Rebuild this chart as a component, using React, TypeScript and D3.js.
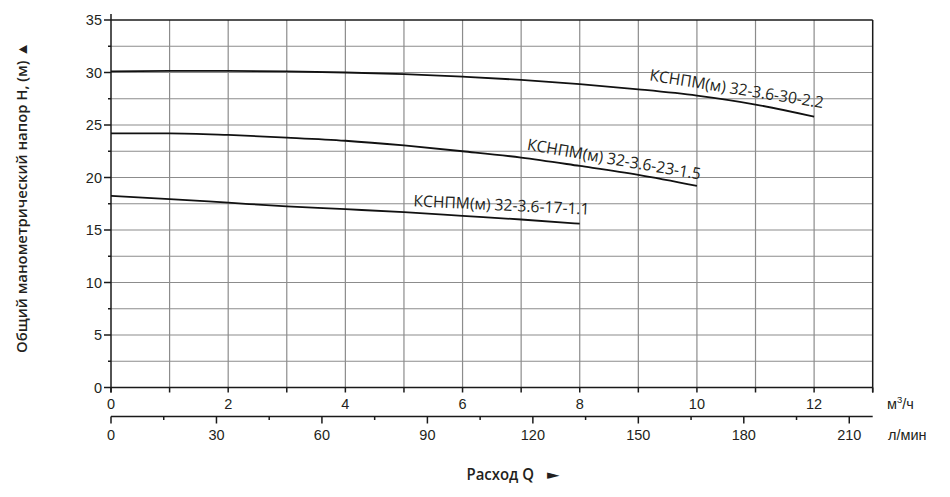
import React from "react";
import * as d3 from "d3";

// ---- data ----
const flowQ30 = [0, 1, 2, 3, 4, 5, 6, 7, 8, 9, 10, 11, 12];
const head30 = [30.1, 30.15, 30.15, 30.1, 30.0, 29.85, 29.6, 29.3, 28.9, 28.4, 27.8, 26.95, 25.8];
const flowQ23 = [0, 1, 2, 3, 4, 5, 6, 7, 8, 9, 10];
const head23 = [24.2, 24.2, 24.05, 23.8, 23.5, 23.05, 22.5, 21.9, 21.1, 20.25, 19.2];
const flowQ17 = [0, 1, 2, 3, 4, 5, 6, 7, 8];
const head17 = [18.26, 17.95, 17.6, 17.25, 16.98, 16.7, 16.35, 16.0, 15.6];

const seriesNames = [
  "КСНПМ(м) 32-3.6-30-2.2",
  "КСНПМ(м) 32-3.6-23-1.5",
  "КСНПМ(м) 32-3.6-17-1.1",
];
// label anchors in data units (Q, H) and rotation
const labelQ = [9.18, 7.09, 5.16];
const labelH = [29.25, 22.65, 17.25];
const labelAngle = [9.1, 9.8, 2.7];

const yTicks = [0, 5, 10, 15, 20, 25, 30, 35];
const xTicksM3 = [0, 2, 4, 6, 8, 10, 12];
const xTicksLmin = [0, 30, 60, 90, 120, 150, 180, 210];

const yTitle = "Общий манометрический напор H, (м) ▲";
const xTitle = "Расход Q";
const unitLmin = "л/мин";

export default function App() {
  const W = 950;
  const H = 497;
  const left = 111;
  const right = 872.7;
  const top = 20;
  const bottom = 387.5;
  const axis2Y = 416.5;

  const x = d3.scaleLinear().domain([0, 13]).range([left, right]);
  const xl = d3.scaleLinear().domain([0, 13 * 1000 / 60]).range([left, right]);
  const y = d3.scaleLinear().domain([0, 35]).range([bottom, top]);

  const line = d3
    .line<[number, number]>()
    .x((d) => x(d[0]))
    .y((d) => y(d[1]))
    .curve(d3.curveMonotoneX);

  const series = [
    d3.zip(flowQ30, head30) as [number, number][],
    d3.zip(flowQ23, head23) as [number, number][],
    d3.zip(flowQ17, head17) as [number, number][],
  ];

  const vGrid = d3.range(1, 13);
  const hGrid = d3.range(2.5, 35, 2.5);
  const yMinor = d3.range(2.5, 35, 5);
  const xAllTicks = d3.range(0, 14);
  const lMinor = d3.range(15, 211, 30);

  const gridColor = "#8c8c8c";
  const axisColor = "#1a1a1a";
  const textColor = "#231f20";
  const tickFont = "'Liberation Sans', Arial, sans-serif";
  const labelFont = "'Open Sans', 'Noto Sans', sans-serif";

  return (
    <div style={{ position: "fixed", left: 0, top: 0, width: W, height: H, background: "#fff" }}>
      <svg width={W} height={H} viewBox={`0 0 ${W} ${H}`}>
        <rect x={0} y={0} width={W} height={H} fill="#fff" />
        {/* grid */}
        <g stroke={gridColor} strokeWidth={1.2}>
          {vGrid.map((q) => (
            <line key={"v" + q} x1={x(q)} x2={x(q)} y1={top} y2={bottom} />
          ))}
          {hGrid.map((h) => (
            <line key={"h" + h} x1={left} x2={right} y1={y(h)} y2={y(h)} />
          ))}
        </g>
        {/* frame */}
        <g stroke={axisColor} strokeWidth={1.5} fill="none">
          <line x1={left} x2={left} y1={top - 6} y2={bottom + 5} />
          <line x1={left} x2={right} y1={bottom} y2={bottom} />
          <line x1={left} x2={right} y1={top} y2={top} />
          <line x1={right} x2={right} y1={top} y2={bottom + 5} />
          {yTicks.map((t) => (
            <line key={"yt" + t} x1={left - 7} x2={left} y1={y(t)} y2={y(t)} />
          ))}
          {yMinor.map((t) => (
            <line key={"ym" + t} x1={left - 3} x2={left} y1={y(t)} y2={y(t)} />
          ))}
          {xAllTicks.map((t) => (
            <line key={"xt" + t} x1={x(t)} x2={x(t)} y1={bottom} y2={bottom + 5} />
          ))}
          <line x1={left} x2={right} y1={axis2Y} y2={axis2Y} />
          {xTicksLmin.map((t) => (
            <line key={"lt" + t} x1={xl(t)} x2={xl(t)} y1={axis2Y} y2={axis2Y + 7} />
          ))}
          {lMinor.map((t) => (
            <line key={"lm" + t} x1={xl(t)} x2={xl(t)} y1={axis2Y} y2={axis2Y + 3.5} />
          ))}
        </g>
        {/* tick labels */}
        <g fontFamily={tickFont} fontSize={14.5} fill={textColor}>
          {yTicks.map((t) => (
            <text key={"yl" + t} x={left - 9} y={y(t) + 5} textAnchor="end">
              {t}
            </text>
          ))}
          {xTicksM3.map((t) => (
            <text key={"xl" + t} x={x(t)} y={bottom + 21} textAnchor="middle">
              {t}
            </text>
          ))}
          {xTicksLmin.map((t) => (
            <text key={"ll" + t} x={xl(t)} y={axis2Y + 23.5} textAnchor="middle">
              {t}
            </text>
          ))}
          <text x={887} y={bottom + 21}>
            {"м"}
            <tspan dy={-6} fontSize={9.5}>3</tspan>
            <tspan dy={6}>/ч</tspan>
          </text>
          <text x={888} y={axis2Y + 23}>{unitLmin}</text>
        </g>
        {/* curves */}
        <g fill="none" stroke="#111" strokeWidth={1.8}>
          {series.map((s, i) => (
            <path key={"c" + i} d={line(s) || ""} />
          ))}
        </g>
        {/* curve labels */}
        <g fontFamily={labelFont} fontSize={16} fontWeight={500} fill={textColor}>
          {seriesNames.map((n, i) => (
            <text
              key={"lab" + i}
              x={x(labelQ[i])}
              y={y(labelH[i])}
              transform={`rotate(${labelAngle[i]} ${x(labelQ[i])} ${y(labelH[i])})`}
              textLength={176}
              lengthAdjust="spacingAndGlyphs"
            >
              {n}
            </text>
          ))}
        </g>
        {/* axis titles */}
        <text
          x={0}
          y={0}
          transform={`translate(27,197.5) rotate(-90)`}
          textAnchor="middle"
          fontFamily={labelFont}
          fontWeight={600}
          fontSize={14}
          fill={textColor}
          textLength={311}
          lengthAdjust="spacingAndGlyphs"
        >
          {yTitle}
        </text>
        <text
          x={466.5}
          y={480}
          fontFamily={labelFont}
          fontWeight={600}
          fontSize={16}
          fill={textColor}
          textLength={67.5}
          lengthAdjust="spacingAndGlyphs"
        >
          {xTitle}
        </text>
        <text x={547} y={479} fontFamily="'DejaVu Sans', sans-serif" fontSize={13} fill={textColor} textLength={12.5} lengthAdjust="spacingAndGlyphs">
          ►
        </text>
      </svg>
    </div>
  );
}
